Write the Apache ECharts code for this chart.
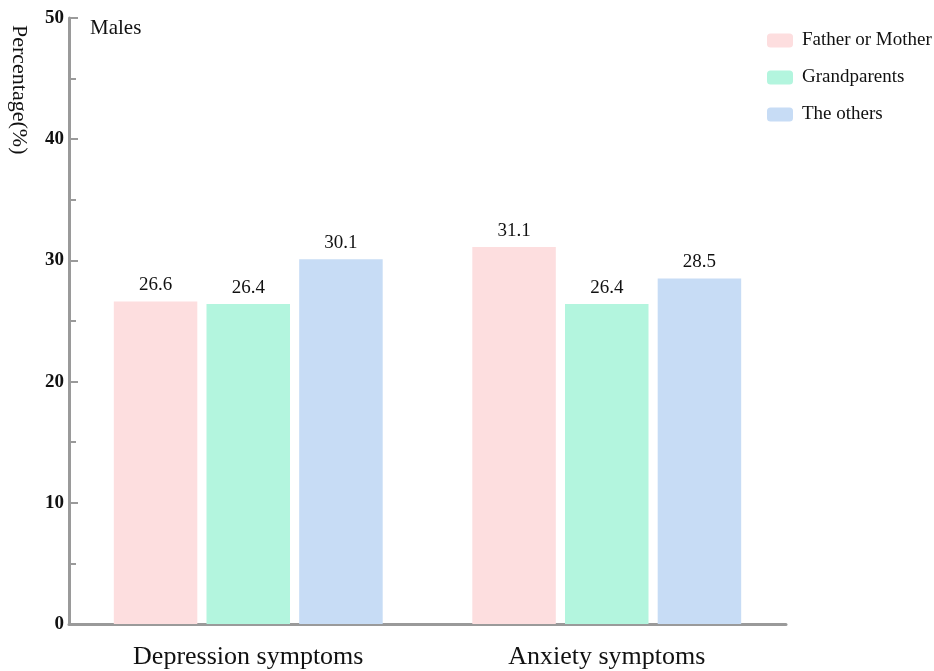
<!DOCTYPE html>
<html><head><meta charset="utf-8">
<script src="https://cdn.jsdelivr.net/npm/echarts@6/dist/echarts.min.js"></script>
<style>html,body{margin:0;padding:0;background:#fff}#c{width:934px;height:671px}</style>
</head><body><div id="c"></div>
<script>
const categories = ['Depression symptoms', 'Anxiety symptoms'];
const seriesNames = ['Father or Mother', 'Grandparents', 'The others'];
const fatherMother = [26.6, 31.1];
const grandparents = [26.4, 26.4];
const others = [30.1, 28.5];
const colors = ['#FDDEDF', '#B3F5DE', '#C7DCF5'];
const FONT = '"Liberation Serif", "Times New Roman", serif';

const chart = echarts.init(document.getElementById('c'));
const values = [fatherMother, grandparents, others];
chart.setOption({
  animation: false,
  grid: { left: 69, right: 148, top: 18, bottom: 47, containLabel: false },
  legend: {
    orient: 'vertical', left: 762, top: 26, itemWidth: 26, itemHeight: 14, itemGap: 18,
    textStyle: { fontFamily: FONT, fontSize: 19, color: '#111', padding: [0, 0, 0, 4] },
    data: seriesNames.map((n, i) => ({ name: n, itemStyle: { color: colors[i] } }))
  },
  xAxis: {
    type: 'category', data: categories,
    axisLine: { lineStyle: { color: '#9a9a9a', width: 3 } },
    axisTick: { show: false },
    axisLabel: { fontFamily: FONT, fontSize: 26, color: '#111', margin: 20 }
  },
  yAxis: {
    type: 'value', min: 0, max: 50, interval: 10,
    axisLine: { show: true, lineStyle: { color: '#9a9a9a', width: 3 } },
    axisTick: { show: true, inside: true, length: 9, lineStyle: { color: '#9a9a9a', width: 2 } },
    minorTick: { show: true, splitNumber: 2, length: 7, lineStyle: { color: '#9a9a9a', width: 2 } },
    splitLine: { show: false },
    axisLabel: { fontFamily: FONT, fontSize: 19, fontWeight: 'bold', color: '#111', margin: 5 }
  },
  graphic: [
    { type: 'text', left: 90, top: 18, style: { text: 'Males', font: '21px ' + FONT, fill: '#111' } },
    { type: 'text', x: 30, y: 25, rotation: -Math.PI / 2,
      style: { text: 'Percentage(%)', font: '22px ' + FONT, fill: '#111' } }
  ],
  series: values.map((v, i) => ({
    name: seriesNames[i], type: 'bar', data: v,
    barGap: '11%', barCategoryGap: '25%',
    itemStyle: { color: colors[i] },
    label: { show: true, position: 'top', distance: 7, fontFamily: FONT, fontSize: 19, color: '#111',
      formatter: p => p.value.toFixed(1) }
  }))
});
</script></body></html>
